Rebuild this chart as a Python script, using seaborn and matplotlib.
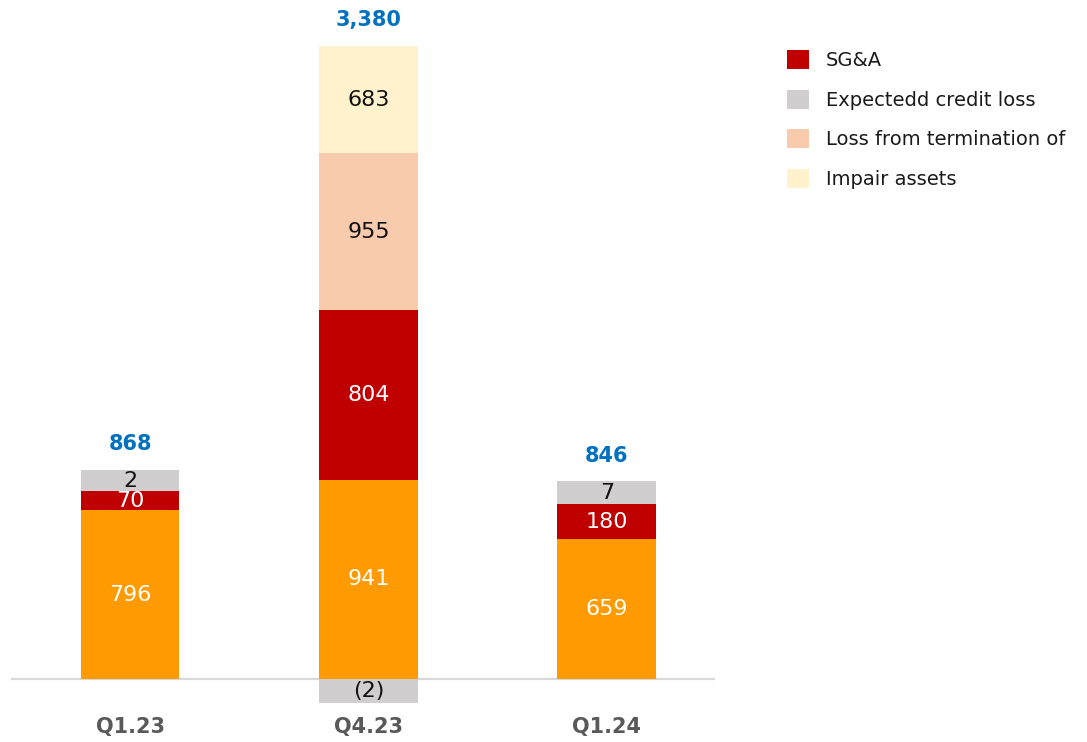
import matplotlib
matplotlib.use("Agg")
import matplotlib.pyplot as plt
import seaborn as sns
import numpy as np
import pandas as pd
from matplotlib.patches import Patch

sns.set_theme(style="white")
plt.rcParams['font.family'] = ['DejaVu Sans']

# 데이터
quarters = ['Q1.23', 'Q4.23', 'Q1.24']
totals = [868, 3380, 846]

# 라벨 값
base_lbl = [796, 941, 659]
sga_lbl = [70, 804, 180]
ecl_lbl = [2, -2, 7]
loss_lbl = [None, 955, None]
impair_lbl = [None, 683, None]

# 그림에서 읽은 막대 높이 (원본 차트 비율 그대로)
base_h = [796, 941, 659]
sga_h = [90, 800, 165]
ecl_h = [100, -112, 108]
loss_h = [0, 740, 0]
impair_h = [0, 505, 0]

legend_labels = ['SG&A', 'Expectedd credit loss', 'Loss from termination of', 'Impair assets']

c_base = '#FF9A00'
c_sga = '#C00000'
c_ecl = '#D0CECE'
c_loss = '#F8CBAD'
c_impair = '#FFF2CC'

# 누적 높이 계산
base = np.array(base_h, dtype=float)
sga = np.array(sga_h, dtype=float)
ecl = np.array(ecl_h, dtype=float)
ecl_pos = np.clip(ecl, 0, None)
ecl_neg = np.clip(ecl, None, 0)
loss = np.array(loss_h, dtype=float)
imp = np.array(impair_h, dtype=float)

cum1 = base
cum2 = cum1 + sga
cum3 = cum2 + ecl_pos
cum4 = cum3 + loss
cum5 = cum4 + imp

fig = plt.figure(figsize=(10.87, 7.42), dpi=100)
ax = fig.add_axes([11 / 1087, 32 / 742, 704 / 1087, 700 / 742])

bw = 0.415
ax.axhline(0, color='#D9D9D9', lw=1.6, zorder=0)

# 위에서부터 겹쳐 그리기
layers = [(cum5, c_impair), (cum4, c_loss), (cum3, c_ecl), (cum2, c_sga), (cum1, c_base), (ecl_neg, c_ecl)]
for vals, col in layers:
    df = pd.DataFrame({'q': quarters, 'v': vals})
    sns.barplot(data=df, x='q', y='v', color=col, width=bw, saturation=1,
                errorbar=None, linewidth=0, ax=ax, zorder=2)

# 세그먼트 라벨
def seg_label(i, lo, hi, text, color):
    ax.text(i, (lo + hi) / 2, text, ha='center', va='center', fontsize=16, color=color, zorder=5)

for i in range(len(quarters)):
    seg_label(i, 0, cum1[i], f'{base_lbl[i]:,}', 'white')
    seg_label(i, cum1[i], cum2[i], f'{sga_lbl[i]:,}', 'white')
    if ecl_lbl[i] >= 0:
        seg_label(i, cum2[i], cum3[i], f'{ecl_lbl[i]}', '#111111')
    else:
        seg_label(i, ecl_neg[i], 0, f'({abs(ecl_lbl[i])})', '#111111')
    if loss_lbl[i] is not None:
        seg_label(i, cum3[i], cum4[i], f'{loss_lbl[i]:,}', '#111111')
    if impair_lbl[i] is not None:
        seg_label(i, cum4[i], cum5[i], f'{impair_lbl[i]:,}', '#111111')
    ax.annotate(f'{totals[i]:,}', (i, cum5[i]), xytext=(0, 18.5), textcoords='offset points',
                ha='center', va='center', fontsize=15, fontweight='bold', color='#0070C0')

ax.set_xlim(-0.499, 2.453)
ax.set_ylim(-146, 3156)
ax.set_yticks([])
ax.set_xlabel('')
ax.set_ylabel('')
ax.tick_params(axis='x', length=0, pad=5)
for t in ax.get_xticklabels():
    t.set_fontsize(15)
    t.set_fontweight('bold')
    t.set_color('#595959')
for s in ax.spines.values():
    s.set_visible(False)

# 범례
handles = [Patch(facecolor=c, edgecolor='none') for c in [c_sga, c_ecl, c_loss, c_impair]]
fig.legend(handles, legend_labels, loc='upper left', bbox_to_anchor=(787 / 1087, 1 - 50 / 742),
           frameon=False, fontsize=14, handlelength=1.13, handleheight=1.13,
           handletextpad=0.85, labelspacing=1.0, borderaxespad=0, borderpad=0,
           labelcolor='#1a1a1a')

fig.savefig('out.png', dpi=100)
